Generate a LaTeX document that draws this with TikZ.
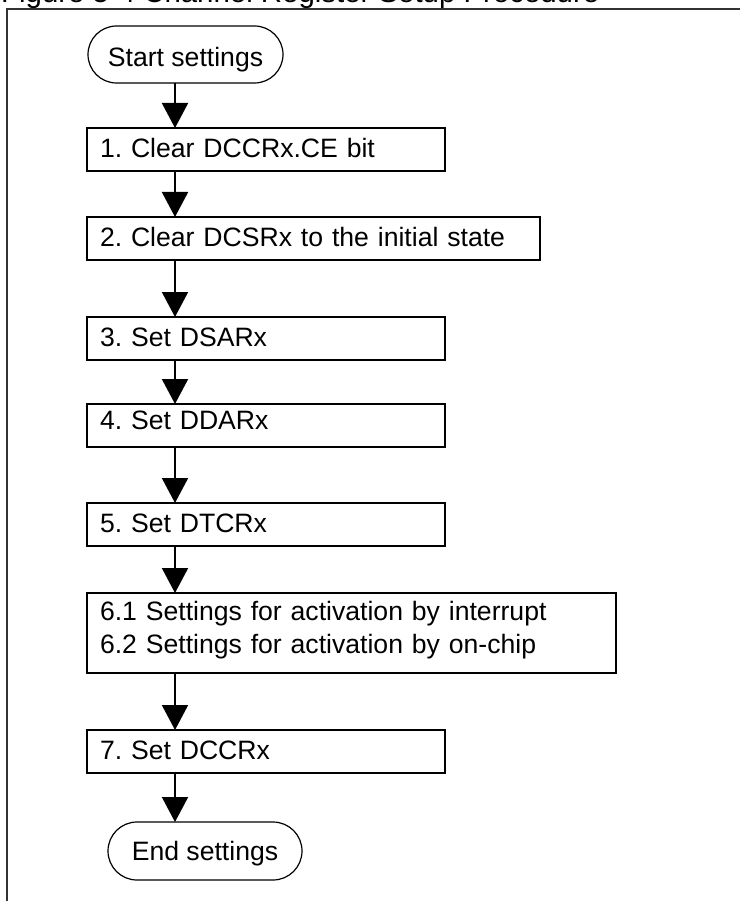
\documentclass[tikz,border=0pt]{standalone}
\usepackage{fontspec}
\setmainfont{Liberation Sans}
\usetikzlibrary{arrows.meta}
\frenchspacing

\begin{document}
\begin{tikzpicture}[x=1pt, y=-1pt, >={Triangle[length=25pt, width=26pt]},
    every node/.style={font=\fontsize{26.6}{33}\selectfont},
    buoc/.style={draw, rectangle, line width=2pt, outer sep=0pt, anchor=north west,
        inner xsep=13pt, inner ysep=2pt, align=left, text width=#1,
        minimum height=43pt, text height=19.2pt, text depth=2.7pt},
    daucuoi/.style={draw, rectangle, line width=1.2pt, outer sep=0pt,
        rounded corners=28.5pt, minimum width=195pt, minimum height=57pt,
        text height=19.2pt, text depth=0pt},
    noi/.style={->, line width=2pt},
    khung/.style={line width=1.4pt, black!80}]
    \useasboundingbox (0,0) rectangle (740,901);

    % Tiêu đề (bị cắt ở mép trên)
    \node[anchor=base west, inner sep=0pt, font=\fontsize{29.4}{35}\selectfont] (tieude) at (1,2.5) {Figure 5-4 Channel Register Setup Procedure};

    % Khung hình
    \draw[khung] (7,901) -- (7,9) -- (740,9);

    % Nút bắt đầu
    \node[daucuoi, text height=24pt] (batdau) at (185.5,54.5) {Start settings};

    % Các bước
    \node[buoc=332pt] (b1) at (87,128) {1. Clear DCCRx.CE bit};
    \node[buoc=427pt] (b2) at (87,217) {2. Clear DCSRx to the initial state};
    \node[buoc=332pt] (b3) at (87,317) {3. Set DSARx};
    \node[buoc=332pt, text depth=12.2pt] (b4) at (87,404) {4. Set DDARx};
    \node[buoc=332pt] (b5) at (87,503) {5. Set DTCRx};
    \node[buoc=503pt, minimum height=80pt, text depth=45.2pt] (b6) at (87,593) {6.1 Settings for activation by interrupt\\6.2 Settings for activation by on-chip};
    \node[buoc=332pt] (b7) at (87,730) {7. Set DCCRx};

    % Nút kết thúc
    \node[daucuoi, minimum width=194pt, minimum height=58pt, rounded corners=29pt] (ketthuc) at (205,851) {End settings};

    % Trục của các mũi tên
    \coordinate (truc) at (175,0);

    % Mũi tên nối các bước
    \draw[noi] (batdau.south -| truc) -- (b1.north -| truc);
    \draw[noi] (b1.south -| truc) -- (b2.north -| truc);
    \draw[noi] (b2.south -| truc) -- (b3.north -| truc);
    \draw[noi] (b3.south -| truc) -- (b4.north -| truc);
    \draw[noi] (b4.south -| truc) -- (b5.north -| truc);
    \draw[noi] (b5.south -| truc) -- (b6.north -| truc);
    \draw[noi] (b6.south -| truc) -- (b7.north -| truc);
    \draw[noi] (b7.south -| truc) -- (ketthuc.north -| truc);
\end{tikzpicture}
\end{document}
